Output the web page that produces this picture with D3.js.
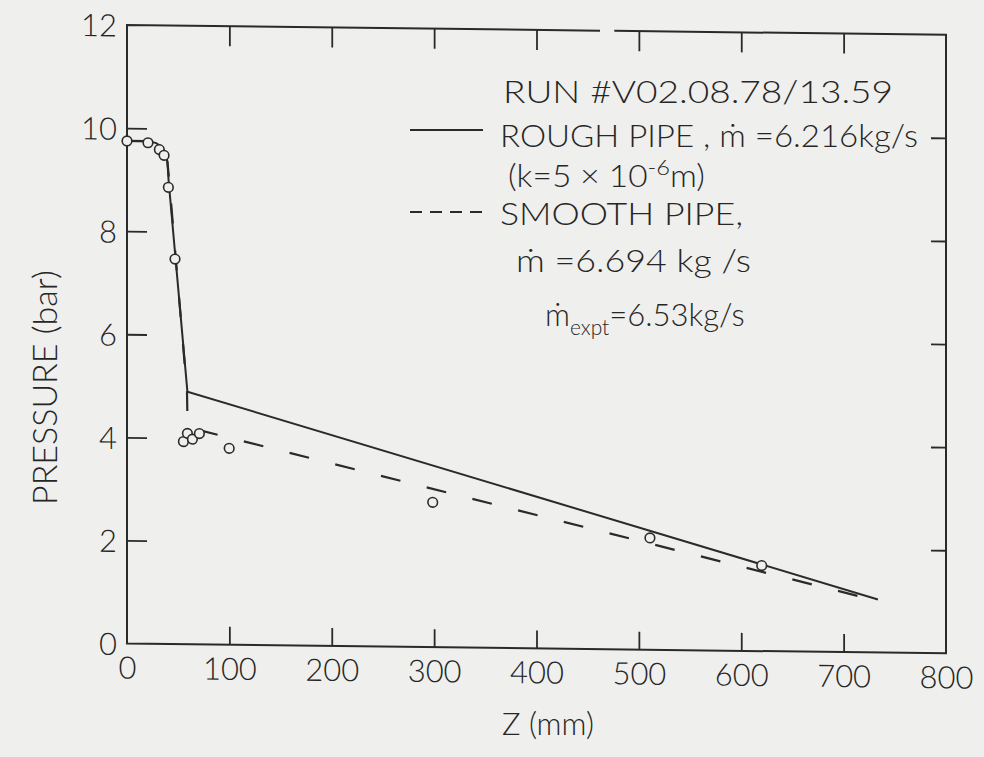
<!DOCTYPE html>
<html>
<head>
<meta charset="utf-8">
<script src="https://cdn.jsdelivr.net/npm/d3@7/dist/d3.min.js"></script>
<style>
  html, body { margin: 0; padding: 0; background: #efefed; }
  svg { display: block; }
  text { font-family: "Lato", "Noto Sans", sans-serif; font-weight: 300; fill: #262626; }
</style>
</head>
<body>
<script>
// ---- data ----
const zTickLabels = [0, 100, 200, 300, 400, 500, 600, 700, 800];
const pTickLabels = [0, 2, 4, 6, 8, 10, 12];
const innerZTicks = [100, 200, 300, 400, 500, 600, 700];
const innerPTicks = [2, 4, 6, 8, 10];

// rough pipe calculation (solid)
const roughZ = [0, 20, 28, 33, 37, 39.5, 40.6, 59, 733.5];
const roughP = [9.75, 9.75, 9.72, 9.66, 9.55, 9.35, 9.0, 4.9, 1.03];
// smooth pipe calculation (dashed)
const smoothZ = [0, 20, 28, 33, 37, 39.5, 41.2, 58.6, 59.2, 733.5];
const smoothP = [9.75, 9.75, 9.72, 9.66, 9.55, 9.35, 9.0, 4.9, 4.21, 1.0];
// experimental points (circles)
const exptZ = [0, 20.5, 31.6, 36.2, 40.4, 46.9, 55.1, 59, 63.9, 70.7, 99.8, 298.6, 510.8, 620];
const exptP = [9.75, 9.72, 9.59, 9.48, 8.86, 7.47, 3.93, 4.09, 3.98, 4.09, 3.81, 2.81, 2.17, 1.66];

const W = 984, H = 757;
const bg = "#efefed";
const svg = d3.select("body").append("svg").attr("width", W).attr("height", H);
svg.append("rect").attr("width", W).attr("height", H).attr("fill", bg);

const x = d3.scaleLinear().domain([0, 800]).range([127, 946]);
const y = d3.scaleLinear().domain([0, 12]).range([643.5, 25]);
const ink = "#2a2a2a";

// slight shear of the scanned plot
const sh = 0.012;
const plot = svg.append("g").attr("transform", `matrix(1,${sh},0,1,0,${-sh * 127})`);

// frame (top border has a small break in the scan)
const frame = plot.append("g").attr("fill", "none").attr("stroke", ink).attr("stroke-width", 2);
frame.append("path").attr("d",
  `M${x(462)},${y(12)}H${x(0)}V${y(0)}H${x(800)}V${y(12)}H${x(476)}`);

function styleAxis(g) {
  g.select(".domain").remove();
  g.selectAll("line").attr("stroke", ink).attr("stroke-width", 1.8);
  g.selectAll("text").attr("font-family", "Lato, 'Noto Sans', sans-serif")
    .attr("font-weight", 300).attr("fill", "#262626");
}

// inward ticks
plot.append("g").attr("transform", `translate(0,${y(0)})`)
  .call(d3.axisBottom(x).tickValues(innerZTicks).tickSizeInner(-18).tickSizeOuter(0).tickFormat(""))
  .call(styleAxis);
plot.append("g").attr("transform", `translate(0,${y(12)})`)
  .call(d3.axisTop(x).tickValues(innerZTicks).tickSizeInner(-20).tickSizeOuter(0).tickFormat(""))
  .call(styleAxis);
plot.append("g").attr("transform", `translate(${x(0)},0)`)
  .call(d3.axisLeft(y).tickValues(innerPTicks).tickSizeInner(-20).tickSizeOuter(0).tickFormat(""))
  .call(styleAxis);
plot.append("g").attr("transform", `translate(${x(800)},0)`)
  .call(d3.axisRight(y).tickValues(innerPTicks).tickSizeInner(-15).tickSizeOuter(0).tickFormat(""))
  .call(styleAxis);

// tick labels
plot.append("g").attr("transform", `translate(0,${y(0)})`)
  .call(d3.axisBottom(x).tickValues(zTickLabels).tickSize(0).tickPadding(13).tickFormat(d3.format("d")))
  .call(styleAxis)
  .call(g => g.selectAll("text").attr("font-size", 31));
plot.append("g").attr("transform", `translate(${x(0)},0)`)
  .call(d3.axisLeft(y).tickValues(pTickLabels).tickSize(0).tickPadding(10).tickFormat(d3.format("d")))
  .call(styleAxis)
  .call(g => g.selectAll("text").attr("font-size", 31).attr("dy", "0.36em"));

// lines
const line = d3.line().x(d => x(d[0])).y(d => y(d[1]));
plot.append("path")
  .attr("d", line(d3.zip(roughZ, roughP)))
  .attr("fill", "none").attr("stroke", ink).attr("stroke-width", 2);
plot.append("path")
  .attr("d", line(d3.zip(smoothZ, smoothP)))
  .attr("fill", "none").attr("stroke", ink).attr("stroke-width", 2.2)
  .attr("stroke-dasharray", "20 27");

// experimental circles
plot.append("g").selectAll("circle")
  .data(d3.zip(exptZ, exptP))
  .join("circle")
  .attr("cx", d => x(d[0])).attr("cy", d => y(d[1])).attr("r", 4.8)
  .attr("fill", bg).attr("stroke", ink).attr("stroke-width", 1.6);

// axis titles
svg.append("text")
  .attr("transform", "translate(57,505) rotate(-90)")
  .attr("font-size", 34).attr("text-anchor", "start")
  .text("PRESSURE (bar)");
svg.append("text")
  .attr("x", 548).attr("y", 735).attr("text-anchor", "middle")
  .attr("font-size", 31)
  .text("Z (mm)");

// legend / annotations
const fs = 31;
svg.append("text").attr("x", 503).attr("y", 103).attr("font-size", fs)
  .attr("textLength", 390).attr("lengthAdjust", "spacingAndGlyphs")
  .text("RUN #V02.08.78/13.59");

svg.append("line").attr("x1", 410).attr("x2", 483).attr("y1", 130).attr("y2", 130)
  .attr("stroke", ink).attr("stroke-width", 2);
svg.append("text").attr("x", 500).attr("y", 147).attr("font-size", fs)
  .attr("textLength", 418).attr("lengthAdjust", "spacingAndGlyphs")
  .text("ROUGH  PIPE , ṁ =6.216kg/s");

const t3 = svg.append("text").attr("x", 508).attr("y", 187).attr("font-size", fs)
  .attr("textLength", 197).attr("lengthAdjust", "spacingAndGlyphs");
t3.append("tspan").text("(k=5 × 10");
t3.append("tspan").attr("dy", -12).attr("font-size", 22).text("-6");
t3.append("tspan").attr("dy", 12).text("m)");

svg.append("line").attr("x1", 410).attr("x2", 482).attr("y1", 212).attr("y2", 212)
  .attr("stroke", ink).attr("stroke-width", 2).attr("stroke-dasharray", "12 8");
svg.append("text").attr("x", 500).attr("y", 225).attr("font-size", fs)
  .attr("textLength", 243).attr("lengthAdjust", "spacingAndGlyphs")
  .text("SMOOTH  PIPE,");

svg.append("text").attr("x", 516).attr("y", 272).attr("font-size", fs)
  .attr("textLength", 235).attr("lengthAdjust", "spacingAndGlyphs")
  .text("ṁ =6.694 kg /s");

const t6 = svg.append("text").attr("x", 545).attr("y", 326).attr("font-size", fs);
t6.append("tspan").text("ṁ");
t6.append("tspan").attr("dy", 9).attr("font-size", 21).text("expt");
t6.append("tspan").attr("dy", -9).text("=6.53kg/s");
</script>
</body>
</html>
